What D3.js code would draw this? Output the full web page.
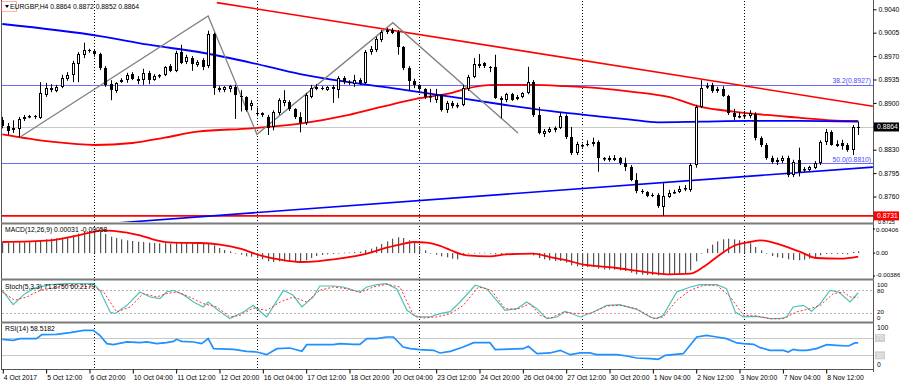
<!DOCTYPE html>
<html>
<head>
<meta charset="utf-8">
<script src="https://cdn.jsdelivr.net/npm/d3@7"></script>
<style>
  body { margin: 0; background: #fff; }
  text { font-family: "Liberation Sans", Arial, sans-serif; font-size: 6.8px; fill: #000; }
</style>
</head>
<body>
<svg id="chart" width="900" height="384"></svg>
<script>
// ---- data ----
// bars: [open, high, low, close], H4 bars from 4 Oct 2017 04:00
const candles = [
[0.8874,0.8879,0.8862,0.8865],[0.8865,0.8870,0.8852,0.8858],[0.8859,0.8874,0.8855,0.8862],[0.8861,0.8879,0.8849,0.8876],
[0.8876,0.8882,0.8873,0.8879],[0.8879,0.8882,0.8877,0.8880],[0.8880,0.8882,0.8876,0.8879],[0.8878,0.8931,0.8876,0.8915],
[0.8912,0.8930,0.8909,0.8922],[0.8922,0.8928,0.8916,0.8919],[0.8918,0.8927,0.8916,0.8924],[0.8924,0.8942,0.8922,0.8937],
[0.8936,0.8946,0.8933,0.8942],[0.8942,0.8963,0.8931,0.8960],[0.8958,0.8976,0.8931,0.8973],[0.8972,0.8990,0.8967,0.8979],
[0.8979,0.8981,0.8975,0.8978],[0.8978,0.8979,0.8969,0.8973],[0.8973,0.8975,0.8949,0.8952],[0.8952,0.8955,0.8924,0.8927],
[0.8928,0.8934,0.8904,0.8919],[0.8918,0.8931,0.8915,0.8930],[0.8931,0.8937,0.8930,0.8934],[0.8934,0.8945,0.8930,0.8942],
[0.8943,0.8946,0.8934,0.8936],[0.8936,0.8940,0.8928,0.8933],[0.8934,0.8951,0.8927,0.8945],[0.8945,0.8948,0.8928,0.8934],
[0.8934,0.8943,0.8933,0.8940],[0.8940,0.8943,0.8937,0.8941],[0.8942,0.8955,0.8940,0.8954],[0.8955,0.8958,0.8946,0.8948],
[0.8948,0.8978,0.8946,0.8975],[0.8976,0.8987,0.8958,0.8960],[0.8961,0.8972,0.8958,0.8969],[0.8967,0.8970,0.8948,0.8958],
[0.8957,0.8964,0.8954,0.8961],[0.8964,0.8967,0.8949,0.8954],[0.8955,0.9008,0.8952,0.9003],[0.9003,0.9005,0.8912,0.8922],
[0.8922,0.8925,0.8916,0.8919],[0.8919,0.8925,0.8916,0.8924],[0.8921,0.8927,0.8916,0.8925],[0.8924,0.8927,0.8876,0.8912],
[0.8910,0.8919,0.8887,0.8909],[0.8909,0.8910,0.8887,0.8889],[0.8895,0.8904,0.8889,0.8900],[0.8885,0.8893,0.8880,0.8883],
[0.8885,0.8886,0.8879,0.8882],[0.8879,0.8882,0.8852,0.8862],[0.8864,0.8889,0.8859,0.8886],[0.8885,0.8907,0.8882,0.8904],
[0.8900,0.8919,0.8895,0.8904],[0.8901,0.8904,0.8888,0.8891],[0.8891,0.8892,0.8876,0.8879],[0.8879,0.8886,0.8856,0.8870],
[0.8870,0.8915,0.8867,0.8912],[0.8909,0.8927,0.8907,0.8922],[0.8921,0.8928,0.8919,0.8924],[0.8922,0.8925,0.8919,0.8923],
[0.8919,0.8925,0.8918,0.8924],[0.8924,0.8927,0.8900,0.8921],[0.8919,0.8940,0.8907,0.8937],[0.8937,0.8940,0.8928,0.8931],
[0.8931,0.8934,0.8927,0.8930],[0.8928,0.8942,0.8924,0.8934],[0.8934,0.8937,0.8927,0.8930],[0.8930,0.8979,0.8928,0.8976],
[0.8976,0.8985,0.8972,0.8981],[0.8979,0.8999,0.8976,0.8996],[0.8994,0.9009,0.8991,0.9006],[0.9006,0.9012,0.9003,0.9009],
[0.9009,0.9012,0.9003,0.9005],[0.9006,0.9009,0.8972,0.8984],[0.8984,0.8985,0.8949,0.8952],[0.8952,0.8955,0.8919,0.8933],
[0.8933,0.8936,0.8922,0.8927],[0.8927,0.8928,0.8918,0.8921],[0.8921,0.8922,0.8906,0.8909],[0.8909,0.8921,0.8901,0.8910],
[0.8904,0.8921,0.8900,0.8912],[0.8912,0.8913,0.8887,0.8889],[0.8889,0.8903,0.8885,0.8900],[0.8900,0.8903,0.8892,0.8895],
[0.8895,0.8900,0.8892,0.8897],[0.8897,0.8927,0.8895,0.8922],[0.8921,0.8942,0.8918,0.8939],[0.8939,0.8967,0.8937,0.8958],
[0.8958,0.8973,0.8952,0.8955],[0.8960,0.8961,0.8952,0.8955],[0.8954,0.8955,0.8946,0.8953],[0.8954,0.8972,0.8906,0.8907],
[0.8907,0.8910,0.8877,0.8904],[0.8904,0.8915,0.8901,0.8913],[0.8913,0.8915,0.8903,0.8904],[0.8906,0.8912,0.8904,0.8909],
[0.8909,0.8916,0.8907,0.8915],[0.8915,0.8954,0.8913,0.8931],[0.8931,0.8934,0.8879,0.8882],[0.8882,0.8894,0.8853,0.8855],
[0.8853,0.8861,0.8849,0.8858],[0.8856,0.8864,0.8855,0.8861],[0.8859,0.8865,0.8856,0.8862],[0.8862,0.8885,0.8861,0.8880],
[0.8880,0.8883,0.8846,0.8849],[0.8849,0.8864,0.8822,0.8825],[0.8825,0.8842,0.8822,0.8839],[0.8836,0.8839,0.8833,0.8837],
[0.8838,0.8844,0.8835,0.8839],[0.8839,0.8848,0.8835,0.8841],[0.8841,0.8844,0.8797,0.8818],[0.8816,0.8819,0.8813,0.8817],
[0.8818,0.8821,0.8812,0.8815],[0.8815,0.8822,0.8813,0.8818],[0.8818,0.8819,0.8807,0.8810],[0.8810,0.8818,0.8798,0.8804],
[0.8804,0.8807,0.8783,0.8785],[0.8785,0.8795,0.8765,0.8768],[0.8768,0.8771,0.8764,0.8767],[0.8767,0.8768,0.8759,0.8761],
[0.8762,0.8765,0.8759,0.8761],[0.8762,0.8765,0.8743,0.8746],[0.8744,0.8780,0.8731,0.8761],[0.8759,0.8770,0.8758,0.8765],
[0.8765,0.8770,0.8764,0.8767],[0.8767,0.8776,0.8765,0.8771],[0.8771,0.8777,0.8768,0.8773],[0.8770,0.8810,0.8767,0.8807],
[0.8807,0.8897,0.8803,0.8894],[0.8894,0.8934,0.8892,0.8922],[0.8924,0.8930,0.8921,0.8925],[0.8927,0.8930,0.8915,0.8918],
[0.8918,0.8924,0.8915,0.8921],[0.8921,0.8925,0.8909,0.8910],[0.8910,0.8912,0.8882,0.8885],[0.8885,0.8891,0.8874,0.8879],
[0.8879,0.8886,0.8877,0.8880],[0.8880,0.8888,0.8876,0.8882],[0.8880,0.8889,0.8877,0.8885],[0.8883,0.8886,0.8844,0.8847],
[0.8847,0.8850,0.8834,0.8837],[0.8837,0.8840,0.8815,0.8818],[0.8818,0.8821,0.8809,0.8812],[0.8815,0.8818,0.8807,0.8812],
[0.8813,0.8821,0.8810,0.8818],[0.8818,0.8821,0.8789,0.8792],[0.8792,0.8815,0.8789,0.8812],[0.8815,0.8833,0.8790,0.8797],
[0.8800,0.8804,0.8797,0.8801],[0.8800,0.8806,0.8798,0.8804],[0.8803,0.8813,0.8801,0.8810],[0.8810,0.8844,0.8807,0.8841],
[0.8841,0.8861,0.8837,0.8856],[0.8856,0.8859,0.8836,0.8837],[0.8839,0.8844,0.8834,0.8836],[0.8840,0.8845,0.8830,0.8836],
[0.8837,0.8840,0.8827,0.8830],[0.8830,0.8867,0.8822,0.8864],[0.8864,0.8872,0.8852,0.8864]
];

// moving averages, [bar, price]
const blueMA = [[0,0.9018],[18,0.9000],[27,0.8987],[37,0.8975],[46,0.8960],[55,0.8943],[64,0.8931],[73,0.8921],
  [83,0.8909],[92,0.8898],[101,0.8888],[110,0.8880],[116,0.8875],[121,0.8871],[129,0.8872],[138,0.8873],[147,0.8873],[158,0.8872]];
const redMA = [[0,0.8853],[9,0.8842],[17,0.8837],[24,0.8840],[30,0.8848],[36,0.8857],[46,0.8862],[55,0.8869],[64,0.8882],
  [70,0.8894],[77,0.8907],[83,0.8915],[86,0.8922],[91,0.8927],[98,0.8927],[104,0.8925],[110,0.8922],[116,0.8917],
  [123,0.8909],[129,0.8894],[135,0.8887],[141,0.8882],[147,0.8878],[153,0.8874],[158,0.8873]];

// drawn objects, [bar, price]
const redTrend = [[39.6,0.9050],[160.7,0.8895]];
const blueTrend = [[17.1,0.8718],[160.7,0.8804]];
const zigzag = [[3.3,0.8849],[38,0.9030],[47,0.8853],[72.1,0.9020],[95.2,0.8855]];
const fibLevels = [{label:"38.2(0.8927)", price:0.8927},{label:"50.0(0.8810)", price:0.8810}];
const supportPrice = 0.8731;
const lastPrice = 0.8864;

// MACD(12,26,9): histogram per bar, signal as [bar, value]
const macdHist = [
0.00176,0.00176,0.00176,0.00181,0.00181,0.00187,0.00187,0.00198,0.00232,0.00243,0.00249,0.00260,0.00271,0.00299,0.00328,0.00356,
0.00373,0.00378,0.00356,0.00322,0.00277,0.00255,0.00232,0.00215,0.00204,0.00193,0.00187,0.00176,0.00170,0.00165,0.00165,0.00159,
0.00170,0.00170,0.00170,0.00165,0.00159,0.00153,0.00165,0.00131,0.00086,0.00052,0.00030,0.00002,-0.00026,-0.00055,-0.00060,-0.00083,
-0.00105,-0.00139,-0.00150,-0.00139,-0.00139,-0.00139,-0.00150,-0.00150,-0.00122,-0.00083,-0.00049,-0.00032,-0.00021,-0.00015,0.00002,0.00007,
0.00007,0.00019,0.00024,0.00052,0.00075,0.00108,0.00153,0.00198,0.00243,0.00266,0.00255,0.00215,0.00176,0.00120,0.00047,0.00002,
-0.00026,-0.00055,-0.00071,-0.00094,-0.00105,-0.00038,-0.00010,0.00002,0.00007,0.00007,0.00002,-0.00021,-0.00026,-0.00021,-0.00021,-0.00015,
-0.00010,-0.00004,-0.00038,-0.00083,-0.00105,-0.00122,-0.00133,-0.00133,-0.00161,-0.00206,-0.00223,-0.00234,-0.00234,-0.00234,-0.00262,-0.00274,
-0.00279,-0.00279,-0.00290,-0.00302,-0.00330,-0.00358,-0.00363,-0.00369,-0.00369,-0.00375,-0.00363,-0.00358,-0.00358,-0.00352,-0.00341,-0.00290,
-0.00139,-0.00010,0.00075,0.00142,0.00198,0.00232,0.00243,0.00232,0.00215,0.00187,0.00165,0.00103,0.00047,-0.00010,-0.00049,-0.00071,
-0.00083,-0.00105,-0.00116,-0.00122,-0.00111,-0.00094,-0.00071,-0.00038,-0.00015,-0.00015,-0.00015,-0.00015,-0.00021,0.00019,0.00031
];
const macdSignal = [[0,0.00187],[8.8,0.00215],[12.5,0.00271],[16.2,0.00344],[18.6,0.00384],[20.5,0.00373],[25.4,0.00299],
  [28.5,0.00215],[31.6,0.00176],[36.5,0.00170],[40.2,0.00142],[43.9,0.00075],[47.6,-0.00038],[51.3,-0.00111],[55,-0.00150],
  [58,-0.00139],[61.1,-0.00105],[67.3,-0.00010],[70.3,0.00075],[73.4,0.00142],[75.9,0.00187],[78.4,0.00176],[81.4,0.00103],
  [82.7,0.00052],[85.7,-0.00038],[90,-0.00055],[93,-0.00021],[98,-0.00010],[101.1,-0.00066],[104.2,-0.00122],[107.3,-0.00195],
  [110.3,-0.00223],[113.4,-0.00251],[116.5,-0.00290],[119.6,-0.00330],[122.7,-0.00358],[127,-0.00346],[129.4,-0.00234],
  [131.9,-0.00066],[135,0.00120],[138.1,0.00187],[139.9,0.00215],[143,0.00159],[147.3,0.00019],[150.3,-0.00083],
  [154.7,-0.00094],[158,-0.00058]];

// Stochastic(5,3,3), [bar, value]
const stochMain = [[0,78.3],[2,40.9],[4.2,69.6],[5.7,82.6],[8.8,93.1],[11.9,95.7],[16.8,95.7],[18,78.3],[19.9,21.7],[20.8,17.4],
  [23,39.1],[25.4,74],[27.3,60.9],[29.1,56.5],[30.3,74],[31.6,78.3],[33.4,67],[35.3,47.8],[37.1,34.8],[38,47.8],[39.6,28.7],
  [42,4.3],[44.5,21.7],[46.3,39.1],[48.8,8.7],[51.9,78.3],[53.7,65.2],[55.3,34.8],[57.4,60.9],[58.6,89.6],[61.1,89.6],
  [62.9,87],[66,74],[67.3,87],[69.1,93.1],[70.9,95.7],[72.8,82.6],[74.7,26.1],[76.5,8.7],[78.9,8.7],[80.8,17.4],[82.7,22.6],
  [84.5,47.8],[87.3,91.4],[89.4,82.6],[90.7,60.9],[92.8,26.1],[95,30.4],[96.8,47.8],[98.7,30.4],[100.5,4.3],[102.4,8.7],
  [103.9,23.5],[106.7,8.7],[109.1,21.7],[111.6,39.1],[114,40.9],[117.1,28.7],[119.6,8.7],[120.8,4.3],[122,13],[124.5,74],
  [127,87],[128.8,93.1],[131.9,93.1],[133.7,82.6],[135.3,21.7],[136.8,8.7],[139.3,10.4],[141.7,4.3],[143.6,4.3],[144.8,8.7],
  [146,34.8],[147.9,39.1],[149.4,23.5],[151,43.5],[152.8,78.3],[154.4,74],[156.5,47.8],[158,71.9]];
const stochSignal = [[0,74],[2.3,52.2],[4.5,60.9],[7,78.3],[11.9,91.4],[16.8,87],[18.7,74],[21.1,21.7],[23.6,34.8],[26,69.6],
  [28.5,60.9],[30.3,69.6],[32.2,74],[34.6,60.9],[37.1,43.5],[39.6,34.8],[42,8.7],[43.9,13],[46.3,32.2],[48.8,26.1],[51.3,47.8],
  [53.7,60.9],[56.2,47.8],[58.6,78.3],[61.1,87],[63.6,82.6],[66,72.2],[68.5,87],[70.9,94],[73.4,87],[75.9,13],[77.7,6.1],
  [80.2,8.7],[82.7,17.4],[85.1,39.1],[87.9,87],[90.3,78.3],[92.8,30.4],[95,28.7],[97.4,43.5],[99.3,13],[101.1,4.3],[103.6,21.7],
  [106,17.4],[108.5,17.4],[111.6,37.4],[114,39.1],[117.1,30.4],[120.2,4.3],[122,8.7],[124.5,52.2],[127,78.3],[129.4,91.4],
  [131.9,91.4],[134.4,60.9],[136.8,13],[139.3,11.3],[141.7,4.3],[144.2,4.3],[146.6,21.7],[149.1,30.4],[151,39.1],[153.4,69.6],
  [155.3,74],[156.5,60.9],[158,60.2]];

// RSI(14), [bar, value]
const rsiLine = [[0,66.9],[2,64.6],[3.3,68.5],[6.3,68.5],[7.3,77.7],[10,78.5],[12.5,82.3],[15,87.7],[16.8,87.7],[18,76.2],
  [19.3,56.9],[20.5,54.6],[23,60.8],[25.4,59.2],[26.7,60.8],[28.5,56.9],[30.3,59.2],[31.6,62.3],[32.2,66.9],[33.1,62.3],
  [35.3,60.8],[36.8,56.9],[38,68.5],[39,45.4],[42.7,43.8],[45.1,39.2],[47,37.7],[48.8,31.5],[50.7,45.4],[53.1,46.9],
  [55.3,39.2],[56.2,54.6],[58.6,54.6],[61.1,54.6],[62.3,56.9],[64.8,55.4],[66,55.4],[67.3,68.5],[69.1,68.5],[70.9,72.3],
  [72.2,72.3],[74,49.2],[75.3,45.4],[77.1,43.1],[79.6,41.5],[80.8,35.4],[82.7,39.2],[85.1,49.2],[87,59.2],[90,59.2],
  [91,43.1],[96.2,45.4],[97.1,50.8],[98.7,33.8],[101.1,35.4],[103,41.5],[104.8,31.5],[106.7,35.4],[108.5,35.4],[109.7,31.5],
  [113.4,31.5],[115.3,28.4],[117.1,23.8],[119.6,22.3],[121.1,20.7],[122.4,30],[125.7,33.8],[128.2,72.3],[130,76.2],
  [131.9,72.3],[133.7,68.5],[135.6,58.5],[136.8,56.9],[138.7,55.4],[139.9,47.7],[141.7,41.5],[144.2,41.5],[145.1,37.7],
  [146,43.8],[147,41.5],[148.5,41.5],[150.3,45.4],[152.2,54.6],[154,53.1],[156.2,51.5],[157.4,58.5],[158,58.5]];

// axes
const priceTicks = [0.9040,0.9005,0.8970,0.8935,0.8900,0.8865,0.8830,0.8795,0.8760,0.8725];
const timeTickBars = [0,8,16,24,32,40,48,56,64,72,80,88,96,104,112,120,128,136,144,152];
const timeLabels = ["4 Oct 2017","5 Oct 12:00","6 Oct 20:00","10 Oct 04:00","11 Oct 12:00","12 Oct 20:00",
  "16 Oct 04:00","17 Oct 12:00","18 Oct 20:00","20 Oct 04:00","23 Oct 12:00","24 Oct 20:00","26 Oct 04:00",
  "27 Oct 12:00","30 Oct 20:00","1 Nov 04:00","2 Nov 12:00","3 Nov 20:00","7 Nov 04:00","8 Nov 12:00"];
const weekStartBars = [17,47,77,107,137];

// ---- layout ----
const plotLeft = 2, plotRight = 873;
const panels = {
  main:  {top: 1,   bottom: 222},
  macd:  {top: 225, bottom: 278},
  stoch: {top: 281, bottom: 321},
  rsi:   {top: 324, bottom: 369}
};

const svg = d3.select("#chart");

const x = d3.scaleLinear().domain([0, 158]).range([2.3, 858.2]);
const yMain = d3.scaleLinear().domain([0.8725, 0.9040]).range([219.9, 9.3]);
const yMacd = d3.scaleLinear().domain([-0.00386, 0.00406]).range([276, 229]);
const yStoch = d3.scaleLinear().domain([0, 100]).range([320.3, 282]);
const yRsi = d3.scaleLinear().domain([0, 100]).range([368.3, 325]);

// clip paths per panel
const defs = svg.append("defs");
Object.entries(panels).forEach(([k, p]) => {
  defs.append("clipPath").attr("id", "clip-" + k)
    .append("rect").attr("x", plotLeft).attr("y", p.top)
    .attr("width", plotRight - plotLeft).attr("height", p.bottom - p.top);
});

// weekly separators
svg.append("g").selectAll("line").data(weekStartBars).join("line")
  .attr("x1", d => Math.round(x(d)) + 0.5).attr("x2", d => Math.round(x(d)) + 0.5)
  .attr("y1", 1).attr("y2", 369)
  .attr("stroke", "#000").attr("stroke-width", 1).attr("stroke-dasharray", "1,2");

// ---- main panel ----
const main = svg.append("g").attr("clip-path", "url(#clip-main)");

// horizontal levels
main.append("line")
  .attr("x1", plotLeft).attr("x2", plotRight)
  .attr("y1", Math.round(yMain(lastPrice)) + 0.5).attr("y2", Math.round(yMain(lastPrice)) + 0.5)
  .attr("stroke", "#c8c8c8").attr("stroke-width", 1);

main.selectAll(".fib").data(fibLevels).join("line")
  .attr("x1", plotLeft).attr("x2", plotRight)
  .attr("y1", d => Math.round(yMain(d.price)) + 0.5).attr("y2", d => Math.round(yMain(d.price)) + 0.5)
  .attr("stroke", "#6a6aff").attr("stroke-width", 1.2);

main.append("line")
  .attr("x1", plotLeft).attr("x2", plotRight)
  .attr("y1", yMain(supportPrice)).attr("y2", yMain(supportPrice))
  .attr("stroke", "#ff0000").attr("stroke-width", 1.6);

const linePx = d3.line().x(d => x(d[0])).y(d => yMain(d[1]));

main.append("path").datum(blueTrend).attr("d", linePx)
  .attr("fill", "none").attr("stroke", "#0000ff").attr("stroke-width", 1.6);
main.append("path").datum(redTrend).attr("d", linePx)
  .attr("fill", "none").attr("stroke", "#ff0000").attr("stroke-width", 1.6);

const curvePx = d3.line().curve(d3.curveMonotoneX).x(d => x(d[0])).y(d => yMain(d[1]));
main.append("path").datum(redMA).attr("d", curvePx)
  .attr("fill", "none").attr("stroke", "#ff0000").attr("stroke-width", 1.8);
main.append("path").datum(blueMA).attr("d", curvePx)
  .attr("fill", "none").attr("stroke", "#0000ff").attr("stroke-width", 1.8);

main.append("path").datum(zigzag).attr("d", linePx)
  .attr("fill", "none").attr("stroke", "#808080").attr("stroke-width", 1.3);

// candles
const cg = main.append("g");
candles.forEach((c, i) => {
  const [o, h, l, cl] = c;
  const cx = Math.round(x(i));
  cg.append("line")
    .attr("x1", cx + 0.5).attr("x2", cx + 0.5)
    .attr("y1", yMain(h)).attr("y2", yMain(l))
    .attr("stroke", "#000").attr("stroke-width", 1);
  const yTop = Math.round(yMain(Math.max(o, cl)));
  const yBot = Math.round(yMain(Math.min(o, cl)));
  if (yBot - yTop < 1) {
    cg.append("line").attr("x1", cx - 1).attr("x2", cx + 2)
      .attr("y1", yTop + 0.5).attr("y2", yTop + 0.5)
      .attr("stroke", "#000").attr("stroke-width", 1);
  } else if (cl >= o) {
    cg.append("rect").attr("x", cx - 0.5).attr("y", yTop + 0.5)
      .attr("width", 2).attr("height", Math.max(yBot - yTop - 1, 0.5))
      .attr("fill", "#fff").attr("stroke", "#000").attr("stroke-width", 1);
  } else {
    cg.append("rect").attr("x", cx - 1).attr("y", yTop)
      .attr("width", 3).attr("height", yBot - yTop)
      .attr("fill", "#000");
  }
});

// fibo labels
svg.selectAll(".fibtxt").data(fibLevels).join("text")
  .attr("x", 871).attr("y", d => yMain(d.price) - 1.5)
  .attr("text-anchor", "end").style("fill", "#4848ff")
  .text(d => d.label);

// ---- MACD ----
const macd = svg.append("g").attr("clip-path", "url(#clip-macd)");
macd.selectAll("rect").data(macdHist).join("rect")
  .attr("x", (d, i) => Math.round(x(i)))
  .attr("width", 1.2)
  .attr("y", d => Math.min(yMacd(d), yMacd(0)))
  .attr("height", d => Math.max(Math.abs(yMacd(d) - yMacd(0)), 0.6))
  .attr("fill", "#555");
macd.append("path").datum(macdSignal)
  .attr("d", d3.line().curve(d3.curveMonotoneX).x(d => x(d[0])).y(d => yMacd(d[1])))
  .attr("fill", "none").attr("stroke", "#ff0000").attr("stroke-width", 1.8);

// ---- Stochastic ----
const stoch = svg.append("g").attr("clip-path", "url(#clip-stoch)");
[80, 20].forEach(v => {
  stoch.append("line").attr("x1", plotLeft).attr("x2", plotRight)
    .attr("y1", Math.round(yStoch(v)) + 0.5).attr("y2", Math.round(yStoch(v)) + 0.5)
    .attr("stroke", "#b4b4b4").attr("stroke-dasharray", "2,2");
});
const stLine = d3.line().x(d => x(d[0])).y(d => yStoch(d[1]));
stoch.append("path").datum(stochMain).attr("d", stLine)
  .attr("fill", "none").attr("stroke", "#4cc4b8").attr("stroke-width", 1.2);
stoch.append("path").datum(stochSignal).attr("d", stLine)
  .attr("fill", "none").attr("stroke", "#ff3030").attr("stroke-width", 1).attr("stroke-dasharray", "2,2");

// ---- RSI ----
const rsi = svg.append("g").attr("clip-path", "url(#clip-rsi)");
[70, 30].forEach(v => {
  rsi.append("line").attr("x1", plotLeft).attr("x2", plotRight)
    .attr("y1", Math.round(yRsi(v)) + 0.5).attr("y2", Math.round(yRsi(v)) + 0.5)
    .attr("stroke", "#c8c8c8").attr("stroke-width", 1);
});
rsi.append("path").datum(rsiLine)
  .attr("d", d3.line().x(d => x(d[0])).y(d => yRsi(d[1])))
  .attr("fill", "none").attr("stroke", "#1e90ff").attr("stroke-width", 1.7);

// ---- frames ----
const frame = svg.append("g").attr("stroke", "#7a7a7a").attr("fill", "none");
frame.append("line").attr("x1", 1.5).attr("x2", 1.5).attr("y1", 0).attr("y2", 369).attr("stroke", "#555");
frame.append("line").attr("x1", plotRight + 0.5).attr("x2", plotRight + 0.5).attr("y1", 0).attr("y2", 372).attr("stroke", "#555");
[223.5, 279.5, 322.5].forEach(y => {
  frame.append("line").attr("x1", 1).attr("x2", plotRight + 1).attr("y1", y).attr("y2", y).attr("stroke-width", 2);
});
frame.append("line").attr("x1", 1).attr("x2", plotRight + 1).attr("y1", 369.5).attr("y2", 369.5).attr("stroke", "#555");

// ---- price axis ----
const pAxis = svg.append("g").attr("transform", `translate(${plotRight + 0.5},0)`)
  .call(d3.axisRight(yMain).tickValues(priceTicks.filter(p => p > 0.8728)).tickSize(3).tickPadding(2).tickFormat(d3.format(".4f")));
pAxis.select(".domain").remove();
pAxis.selectAll("text").style("font-size", "6.8px");

function axisBox(yv, txt, fill, color) {
  svg.append("rect").attr("x", plotRight + 1).attr("y", yv - 4.5).attr("width", 25).attr("height", 9).attr("fill", fill);
  svg.append("text").attr("x", plotRight + 4).attr("y", yv + 2.4).style("fill", color).text(txt);
}
// lowest tick label sits half hidden under the support box, as in the picture
svg.append("text").attr("x", plotRight + 5).attr("y", 223.5).style("font-size", "5.5px").text("0.8725");
axisBox(yMain(lastPrice), "0.8864", "#000", "#fff");
axisBox(yMain(supportPrice), "0.8731", "#ff0000", "#fff");

// MACD axis
const macdLabels = [{v: 0.00406, t: "0.00406", dy: 2.6}, {v: 0, t: "0.00", dy: 2.4}, {v: -0.00386, t: "-0.00386", dy: 1}];
svg.selectAll(".macdlab").data(macdLabels).join("text")
  .attr("x", plotRight + 3).attr("y", d => yMacd(d.v) + d.dy)
  .style("font-size", "6.2px").text(d => d.t);
svg.selectAll(".macdtick").data(macdLabels).join("line")
  .attr("x1", plotRight).attr("x2", plotRight + 2)
  .attr("y1", d => yMacd(d.v)).attr("y2", d => yMacd(d.v)).attr("stroke", "#000");

// Stoch axis
const stochLabels = [{v: 100, y: 287}, {v: 80, y: 293}, {v: 20, y: 314.3}, {v: 0, y: 320.3}];
svg.selectAll(".stlab").data(stochLabels).join("text")
  .attr("x", plotRight + 4).attr("y", d => d.y).style("font-size", "6.2px").text(d => d.v);

// RSI axis
svg.append("text").attr("x", plotRight + 4).attr("y", yRsi(100) + 5).text("100");
svg.append("text").attr("x", plotRight + 4).attr("y", yRsi(0) - 1).text("0");
[70, 30].forEach(v => {
  svg.append("rect").attr("x", plotRight + 2).attr("y", yRsi(v) - 4).attr("width", 10).attr("height", 8).attr("fill", "#cfcfcf");
  svg.append("text").attr("x", plotRight + 3).attr("y", yRsi(v) + 2.4).style("fill", "#f4f4f4").text(v);
});

// ---- time axis ----
const tAxis = svg.append("g").attr("transform", "translate(0,369.5)")
  .call(d3.axisBottom(x).tickValues(timeTickBars).tickSize(4).tickPadding(2)
    .tickFormat((d, i) => timeLabels[i]));
tAxis.select(".domain").remove();
tAxis.selectAll(".tick line").attr("transform", "translate(0.5,0)");
tAxis.selectAll("text").attr("text-anchor", "start").attr("dx", 1).style("font-size", "6.8px");

// ---- titles ----
svg.append("rect").attr("x", 1.5).attr("y", 1.5).attr("width", 15).attr("height", 10)
  .attr("fill", "none").attr("stroke", "#ff6060").attr("stroke-dasharray", "1,1");
svg.append("path").attr("d", "M5,5 L9,5 L7,8 Z").attr("fill", "#000");
svg.append("text").attr("x", 10).attr("y", 9).text("EURGBP,H4 0.8864 0.8872 0.8852 0.8864");
svg.append("text").attr("x", 5).attr("y", 232).text("MACD(12,26,9) 0.00031 -0.00058");
svg.append("text").attr("x", 5).attr("y", 289).text("Stoch(5,3,3) 71.8750 60.2179");
svg.append("text").attr("x", 5).attr("y", 331).text("RSI(14) 58.5182");
</script>
</body>
</html>
